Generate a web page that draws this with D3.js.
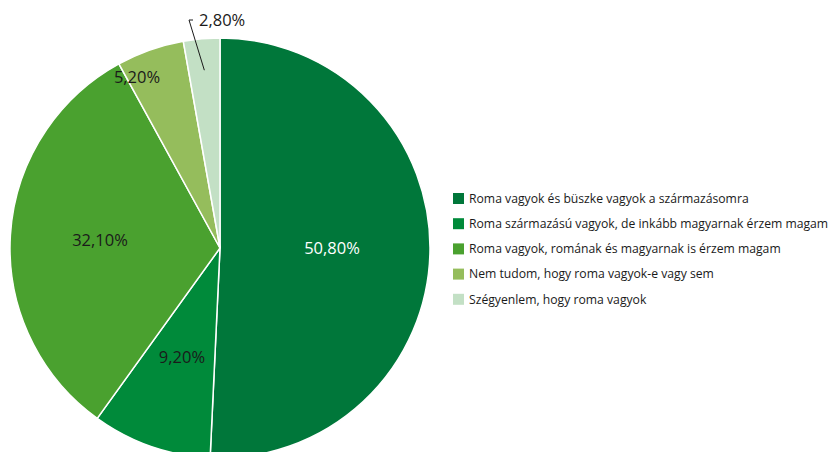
<!DOCTYPE html>
<html>
<head>
<meta charset="utf-8">
<script src="https://cdn.jsdelivr.net/npm/d3@7"></script>
<style>
  body { margin: 0; background: #fff; }
  svg { display: block; font-family: "Open Sans", "Noto Sans", sans-serif; }
</style>
</head>
<body>
<div id="chart"></div>
<script>
// data
const categories = [
  'Roma vagyok és büszke vagyok a származásomra',
  'Roma származású vagyok, de inkább magyarnak érzem magam',
  'Roma vagyok, romának és magyarnak is érzem magam',
  'Nem tudom, hogy roma vagyok-e vagy sem',
  'Szégyenlem, hogy roma vagyok'
];
const values = [50.8, 9.2, 32.1, 5.2, 2.8];
const valueLabels = ['50,80%', '9,20%', '32,10%', '5,20%', '2,80%'];
const colors = ['#00773a', '#008a3a', '#4aa12f', '#95bd5c', '#c3e0c5'];

const width = 829, height = 452;
const cx = 220, cy = 248, radius = 210;

const svg = d3.select('#chart').append('svg').attr('width', width).attr('height', height);
const g = svg.append('g').attr('transform', 'translate(' + cx + ',' + cy + ')');

const pie = d3.pie().value(d => d).sort(null);
const arc = d3.arc().innerRadius(0).outerRadius(radius);
const arcs = pie(values);

g.selectAll('path').data(arcs).enter().append('path')
  .attr('d', arc)
  .attr('fill', (d, i) => colors[i])
  .attr('stroke', '#fff')
  .attr('stroke-width', 1.5);

// labels inside slices (nudged a bit like the original)
const labelArc = d3.arc().innerRadius(radius * 0.55).outerRadius(radius * 0.55);
const nudge = [[112, 0], null, [-120, -8], [-83, -171], null];
arcs.forEach((d, i) => {
  if (i === 4) return;
  let [x, y] = nudge[i] || labelArc.centroid(d);
  g.append('text')
    .attr('x', x).attr('y', y)
    .attr('dy', '0.35em')
    .attr('text-anchor', 'middle')
    .attr('font-size', 16.5)
    .attr('fill', i === 0 ? '#fff' : '#1a1a1a')
    .text(valueLabels[i]);
});

// small slice label outside with leader line
const small = arcs[4];
const mid = (small.startAngle + small.endAngle) / 2;
const p0 = [Math.sin(mid) * radius * 0.85, -Math.cos(mid) * radius * 0.85];
g.append('polyline')
  .attr('points', [p0, [-31, -228], [-27, -228]].map(p => p.join(',')).join(' '))
  .attr('fill', 'none')
  .attr('stroke', '#1a1a1a')
  .attr('stroke-width', 1);
g.append('text')
  .attr('x', -21).attr('y', -228)
  .attr('dy', '0.35em')
  .attr('font-size', 16.5)
  .attr('fill', '#1a1a1a')
  .text(valueLabels[4]);

// legend
const legend = svg.append('g').attr('transform', 'translate(453,193)');
const rows = legend.selectAll('g').data(categories).enter().append('g')
  .attr('transform', (d, i) => 'translate(0,' + (i * 25.2) + ')');
rows.append('rect').attr('width', 11).attr('height', 11).attr('fill', (d, i) => colors[i]);
rows.append('text')
  .attr('x', 16).attr('y', 5.5).attr('dy', '0.35em')
  .attr('font-size', 12.2)
  .attr('fill', '#1a1a1a')
  .text(d => d);
</script>
</body>
</html>
